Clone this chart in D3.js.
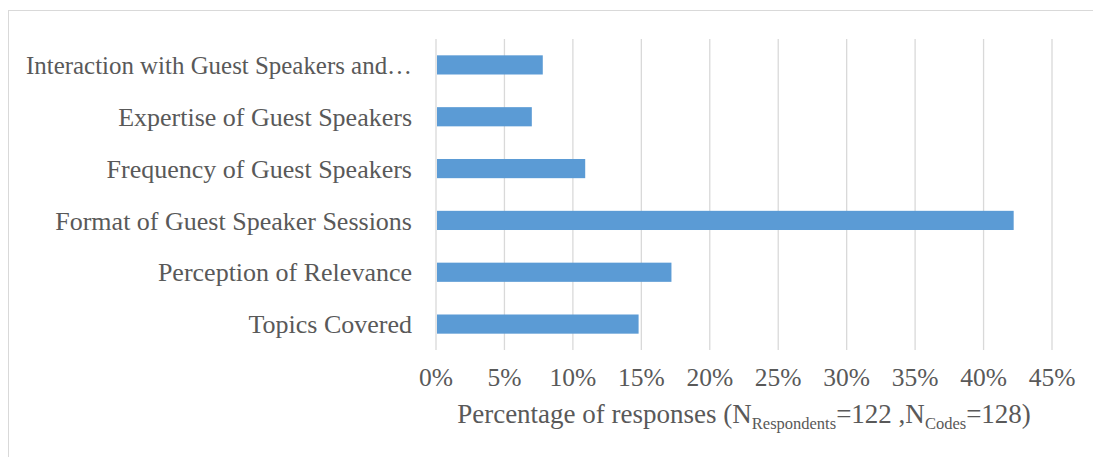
<!DOCTYPE html>
<html>
<head>
<meta charset="utf-8">
<script src="https://cdn.jsdelivr.net/npm/d3@7"></script>
<style>
  body { margin: 0; background: #fff; }
  svg text { font-family: 'Liberation Serif', 'DejaVu Serif', serif; fill: #595959; }
</style>
</head>
<body>
<div id="chart"></div>
<script>
// categories top to bottom, counts out of 128 codes
const categories = [
  "Interaction with Guest Speakers and\u2026",
  "Expertise of Guest Speakers",
  "Frequency of Guest Speakers",
  "Format of Guest Speaker Sessions",
  "Perception of Relevance",
  "Topics Covered"
];
const percentages = [7.8, 7.0, 10.9, 42.2, 17.2, 14.8];
const tickValues = [0, 5, 10, 15, 20, 25, 30, 35, 40, 45];

const width = 1093, height = 457;
const margin = { top: 39, right: 41, bottom: 107, left: 436 };
const font = "'Liberation Serif', 'DejaVu Serif', serif";
const maxLabelWidth = 386;

const svg = d3.select("#chart")
  .append("svg")
  .attr("width", width)
  .attr("height", height)
  .attr("font-family", font);

// chart frame
svg.append("rect")
  .attr("x", 8.5).attr("y", 10.5)
  .attr("width", 1100).attr("height", 470)
  .attr("fill", "none")
  .attr("stroke", "#d9d9d9")
  .attr("stroke-width", 1);

const x = d3.scaleLinear()
  .domain([0, 45])
  .range([margin.left, width - margin.right]);

const y = d3.scaleBand()
  .domain(categories)
  .range([margin.top, height - margin.bottom])
  .paddingInner(0.63)
  .paddingOuter(0.315);

// gridlines
svg.append("g")
  .selectAll("line")
  .data(tickValues)
  .enter()
  .append("line")
  .attr("x1", d => x(d)).attr("x2", d => x(d))
  .attr("y1", margin.top).attr("y2", height - margin.bottom)
  .attr("stroke", "#d9d9d9")
  .attr("stroke-width", 1.3);

// bars
svg.append("g")
  .selectAll("rect")
  .data(categories)
  .enter()
  .append("rect")
  .attr("x", x(0) + 1)
  .attr("y", d => y(d))
  .attr("width", (d, i) => x(percentages[i]) - x(0) - 1)
  .attr("height", y.bandwidth())
  .attr("fill", "#5b9bd5");

// category labels
svg.append("g")
  .selectAll("text")
  .data(categories)
  .enter()
  .append("text")
  .attr("x", x(0) - 24)
  .attr("y", d => y(d) + y.bandwidth() / 2)
  .attr("dy", "0.35em")
  .attr("text-anchor", "end")
  .attr("font-family", font)
  .attr("font-size", 26)
  .text(d => d)
  .each(function () {
    // squeeze the truncated label so it stays inside the frame
    if (this.getComputedTextLength() > maxLabelWidth) {
      d3.select(this)
        .attr("textLength", maxLabelWidth)
        .attr("lengthAdjust", "spacingAndGlyphs");
    }
  });

// tick labels
svg.append("g")
  .selectAll("text")
  .data(tickValues)
  .enter()
  .append("text")
  .attr("x", d => x(d))
  .attr("y", 386)
  .attr("text-anchor", "middle")
  .attr("font-family", font)
  .attr("font-size", 25.5)
  .text(d => d + "%");

// axis title with subscripts
const title = svg.append("text")
  .attr("x", (x(0) + x(45)) / 2)
  .attr("y", 423)
  .attr("text-anchor", "middle")
  .attr("font-family", font)
  .attr("font-size", 27);
title.append("tspan").text("Percentage of responses (N");
title.append("tspan").attr("dy", 6).attr("font-size", 16.5).text("Respondents");
title.append("tspan").attr("dy", -6).text("=122 ,N");
title.append("tspan").attr("dy", 6).attr("font-size", 16.5).text("Codes");
title.append("tspan").attr("dy", -6).text("=128)");
</script>
</body>
</html>
